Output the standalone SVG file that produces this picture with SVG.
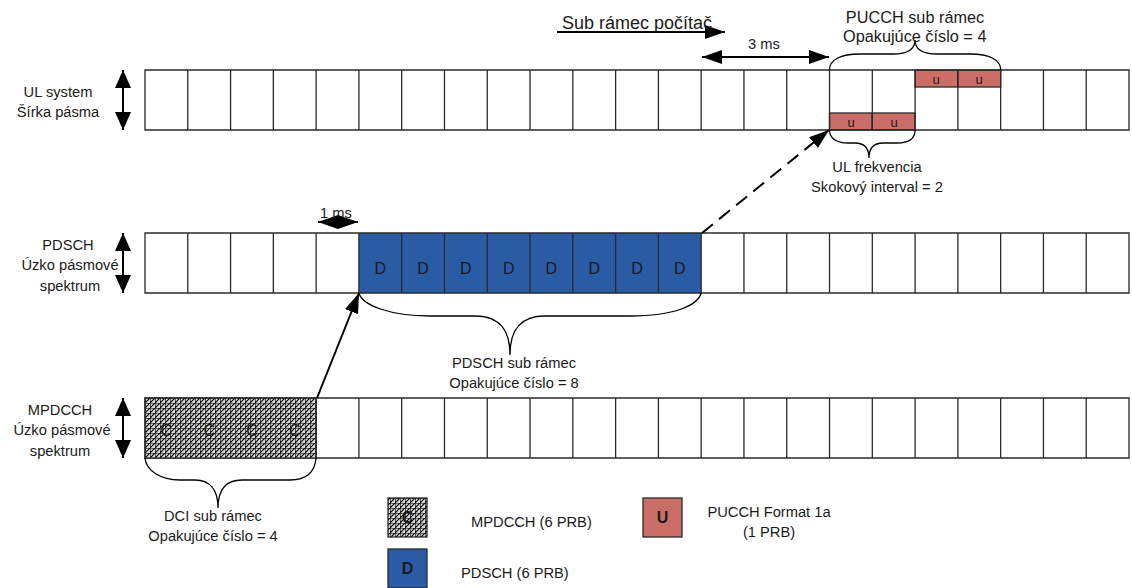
<svg xmlns="http://www.w3.org/2000/svg" width="1132" height="588" viewBox="0 0 1132 588">
<defs>
<pattern id="hatch" width="5" height="5" patternUnits="userSpaceOnUse" x="145" y="398">
<rect width="5" height="5" fill="#d8d8d8"/>
<path d="M0,0 H5 M0,0 V5 M0,5 L5,0" stroke="#000" stroke-width="1.15" fill="none"/>
</pattern>
<marker id="ah" viewBox="0 0 20 14" refX="20" refY="7" markerWidth="20" markerHeight="14" markerUnits="userSpaceOnUse" orient="auto-start-reverse">
<path d="M0,0 L20,7 L0,14 Z" fill="#000"/>
</marker>
<marker id="ahv" viewBox="0 0 18 16" refX="18" refY="8" markerWidth="18" markerHeight="16" markerUnits="userSpaceOnUse" orient="auto-start-reverse">
<path d="M0,0 L18,8 L0,16 Z" fill="#000"/>
</marker>
</defs>
<style>
text{font-family:"Liberation Sans",Arial,sans-serif;font-size:14.7px;fill:#1a1a1a}
.c{text-anchor:middle}
.grid{fill:none;stroke:#2a2a2a;stroke-width:1.3}
.brace{fill:none;stroke:#000;stroke-width:1.3}
.blue{fill:#2A5CA6}
.red{fill:#CC6E68;stroke:#2a2a2a;stroke-width:1.3}
.arr{stroke:#000;stroke-width:2;fill:none}
.cell{font-size:16px}
.u{font-size:13px}
.b{font-weight:bold;font-size:16px}
.big{font-size:16.3px}
</style>

<g id="labels-left">
<text class="c" x="58" y="97">UL system</text>
<text class="c" x="58" y="117">Šírka pásma</text>
<text class="c" x="68" y="250">PDSCH</text>
<text class="c" x="70" y="270">Úzko pásmové</text>
<text class="c" x="70" y="291">spektrum</text>
<text class="c" x="60" y="415">MPDCCH</text>
<text class="c" x="62" y="435">Úzko pásmové</text>
<text class="c" x="60" y="456">spektrum</text>
</g>

<g id="row-ul">
<rect x="829.52" y="113" width="42.78" height="17" class="red"/>
<rect x="872.30" y="113" width="42.79" height="17" class="red"/>
<rect x="915.09" y="70" width="42.78" height="17" class="red"/>
<rect x="957.87" y="70" width="42.78" height="17" class="red"/>
<path class="grid" d="M145,70 H1129 V130 H145 Z M187.78,70 V130 M230.57,70 V130 M273.35,70 V130 M316.13,70 V130 M358.91,70 V130 M401.70,70 V130 M444.48,70 V130 M487.26,70 V130 M530.04,70 V130 M572.83,70 V130 M615.61,70 V130 M658.39,70 V130 M701.17,70 V130 M743.96,70 V130 M786.74,70 V130 M829.52,70 V130 M872.30,70 V130 M915.09,70 V130 M957.87,70 V130 M1000.65,70 V130 M1043.43,70 V130 M1086.22,70 V130"/>
<text class="c u" x="851" y="127">u</text>
<text class="c u" x="894" y="127">u</text>
<text class="c u" x="936" y="84">u</text>
<text class="c u" x="979" y="84">u</text>
</g>

<g id="row-pdsch">
<rect x="358.91" y="233" width="342.26" height="60" class="blue"/>
<path class="grid" d="M145,233 H1129 V293 H145 Z M187.78,233 V293 M230.57,233 V293 M273.35,233 V293 M316.13,233 V293 M358.91,233 V293 M401.70,233 V293 M444.48,233 V293 M487.26,233 V293 M530.04,233 V293 M572.83,233 V293 M615.61,233 V293 M658.39,233 V293 M701.17,233 V293 M743.96,233 V293 M786.74,233 V293 M829.52,233 V293 M872.30,233 V293 M915.09,233 V293 M957.87,233 V293 M1000.65,233 V293 M1043.43,233 V293 M1086.22,233 V293"/>
<text class="c cell" x="380.3" y="274">D</text>
<text class="c cell" x="423.1" y="274">D</text>
<text class="c cell" x="465.9" y="274">D</text>
<text class="c cell" x="508.7" y="274">D</text>
<text class="c cell" x="551.4" y="274">D</text>
<text class="c cell" x="594.2" y="274">D</text>
<text class="c cell" x="637.0" y="274">D</text>
<text class="c cell" x="679.8" y="274">D</text>
</g>

<g id="row-mpdcch">
<path class="grid" d="M145,398 H1129 V458 H145 Z M187.78,398 V458 M230.57,398 V458 M273.35,398 V458 M316.13,398 V458 M358.91,398 V458 M401.70,398 V458 M444.48,398 V458 M487.26,398 V458 M530.04,398 V458 M572.83,398 V458 M615.61,398 V458 M658.39,398 V458 M701.17,398 V458 M743.96,398 V458 M786.74,398 V458 M829.52,398 V458 M872.30,398 V458 M915.09,398 V458 M957.87,398 V458 M1000.65,398 V458 M1043.43,398 V458 M1086.22,398 V458"/>
<rect x="145" y="398" width="171.13" height="60" fill="url(#hatch)" stroke="#2a2a2a" stroke-width="1.3"/>
<text class="c cell" x="166.4" y="436">C</text>
<text class="c cell" x="209.2" y="436">C</text>
<text class="c cell" x="252" y="436">C</text>
<text class="c cell" x="294.7" y="436">C</text>
</g>

<g id="braces">
<path class="brace" d="M829.5,70 C829.5,60 840,54 860,54 L893,54 C907,54 915,50 915,40 C915,50 923,54 937,54 L970,54 C990,54 1000.7,60 1000.7,70"/>
<path class="brace" d="M829.5,130 C829.5,138 836,143 848,143 L855,143 C864,143 869,147 869,158 C869,147 874,143 883,143 L897,143 C909,143 915.1,138 915.1,130"/>
<path class="brace" d="M358.9,293 C362,305 390,316 430,316 L475,316 C500,316 510,330 510,355 C510,330 520,316 545,316 L630,316 C675,316 698,305 701.2,293"/>
<path class="brace" d="M145,458 C146,470 160,480 180,480 L195,480 C210,480 218,490 218,508 C218,490 226,480 242,480 L290,480 C308,480 315,470 316.1,458"/>
</g>

<g id="brace-labels">
<text class="c big" x="915" y="23">PUCCH sub rámec</text>
<text class="big" x="843" y="42">Opakujúce číslo = 4</text>
<text class="c" x="877" y="172">UL frekvencia</text>
<text class="c" x="877" y="192">Skokový interval = 2</text>
<text class="c" x="514" y="368">PDSCH sub rámec</text>
<text class="c" x="514" y="388">Opakujúce číslo = 8</text>
<text class="c" x="213" y="521">DCI sub rámec</text>
<text class="c" x="213" y="541">Opakujúce číslo = 4</text>
</g>

<g id="connectors">
<line class="arr" x1="557" y1="32" x2="725" y2="32" marker-end="url(#ah)"/>
<line class="arr" x1="702" y1="57" x2="829" y2="57" marker-start="url(#ah)" marker-end="url(#ah)"/>
<line class="arr" x1="318" y1="222" x2="358" y2="222" marker-start="url(#ah)" marker-end="url(#ah)"/>
<line class="arr" x1="123" y1="70" x2="123" y2="130" marker-start="url(#ahv)" marker-end="url(#ahv)"/>
<line class="arr" x1="123" y1="233" x2="123" y2="293" marker-start="url(#ahv)" marker-end="url(#ahv)"/>
<line class="arr" x1="123" y1="398" x2="123" y2="458" marker-start="url(#ahv)" marker-end="url(#ahv)"/>
<line class="arr" x1="317" y1="398" x2="359" y2="293" marker-end="url(#ah)"/>
<line class="arr" x1="702" y1="233" x2="829" y2="130" stroke-dasharray="14,8" marker-end="url(#ah)"/>
</g>

<g id="arrow-labels">
<text x="562" y="29" style="font-size:18px">Sub rámec počítač</text>
<text class="c" x="764" y="49">3 ms</text>
<text class="c" x="336" y="218">1 ms</text>
</g>

<g id="legend">
<g id="legend-mpdcch">
<rect x="388" y="498" width="39" height="39" fill="url(#hatch)" stroke="#2a2a2a" stroke-width="1.3"/>
<text class="c b" x="407.5" y="523">C</text>
<text x="471" y="527">MPDCCH (6 PRB)</text>
</g>
<g id="legend-pdsch">
<rect x="388" y="549" width="39" height="39" class="blue" stroke="#2a2a2a" stroke-width="1.3"/>
<text class="c b" x="407.5" y="574">D</text>
<text x="461" y="578">PDSCH (6 PRB)</text>
</g>
<g id="legend-pucch">
<rect x="643" y="498" width="39" height="39" class="red"/>
<text class="c b" x="662.5" y="523">U</text>
<text class="c" x="769" y="517">PUCCH Format 1a</text>
<text class="c" x="769" y="537">(1 PRB)</text>
</g>
</g>
</svg>
